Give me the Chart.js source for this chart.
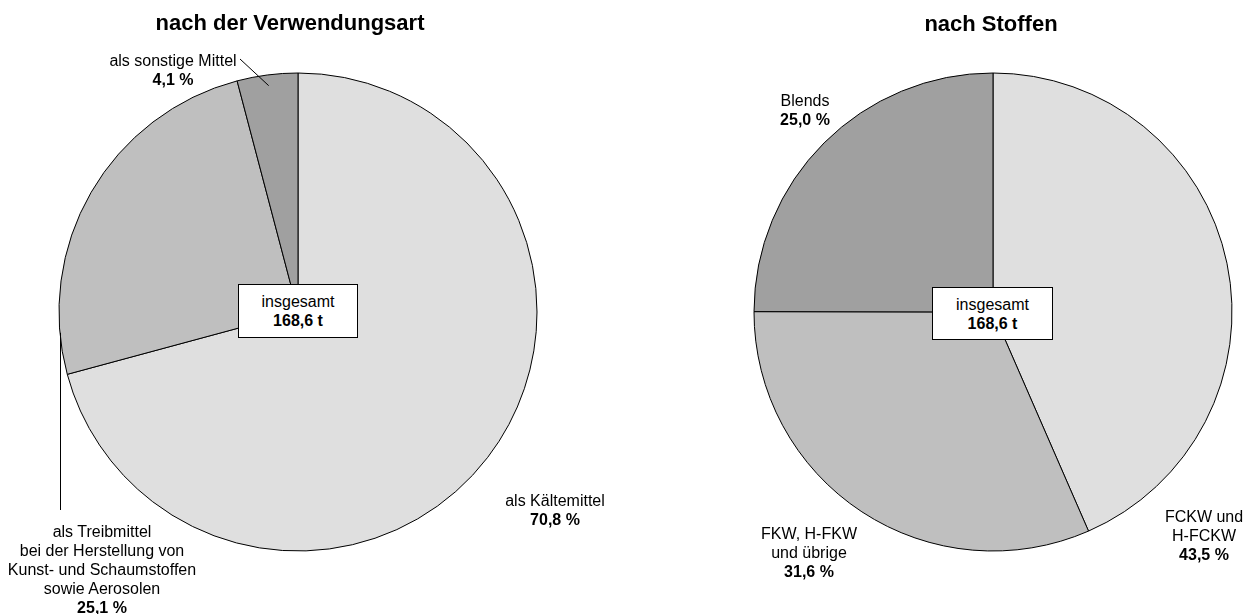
<!DOCTYPE html>
<html lang="de">
<head>
<meta charset="utf-8">
<title>Verwendung nach Art und Stoffen</title>
<script src="https://cdn.jsdelivr.net/npm/chart.js@4.4.1/dist/chart.umd.min.js"></script>
<style>
  html, body { margin: 0; padding: 0; background: #fff; }
  body {
    width: 1252px; height: 614px; position: relative; overflow: hidden;
    font-family: "Liberation Sans", Arial, Helvetica, sans-serif; color: #000;
  }
  canvas { position: absolute; top: 0; }
  .title {
    position: absolute; font-weight: bold; font-size: 22px; line-height: 26px;
    white-space: nowrap; transform: translateX(-50%);
  }
  .label {
    position: absolute; font-size: 16px; line-height: 19px; text-align: center;
    white-space: nowrap; transform: translateX(-50%);
  }
  .total {
    position: absolute; background: #fff; border: 1px solid #000; box-sizing: border-box;
    font-size: 16px; line-height: 19px; text-align: center; padding-top: 7px;
  }
</style>
</head>
<body>
<canvas id="leftPie" width="596" height="614" style="left:0"></canvas>
<canvas id="rightPie" width="518" height="614" style="left:734px"></canvas>

<div class="title" style="left:290px; top:10px">nach der Verwendungsart</div>
<div class="title" style="left:991px; top:11px">nach Stoffen</div>

<div class="total" id="leftTotal" style="left:238px; top:284px; width:120px; height:54px"></div>
<div class="total" id="rightTotal" style="left:932px; top:287px; width:121px; height:53px"></div>

<script>
// Data
const TOTAL_T = 168.6;

// nach der Verwendungsart (clockwise from top)
const useCategories = [
  ["als Kältemittel"],
  ["als Treibmittel", "bei der Herstellung von", "Kunst- und Schaumstoffen", "sowie Aerosolen"],
  ["als sonstige Mittel"],
];
const useValues = [70.8, 25.1, 4.1];

// nach Stoffen (clockwise from top)
const substanceCategories = [
  ["FCKW und", "H-FCKW"],
  ["FKW, H-FKW", "und übrige"],
  ["Blends"],
];
const substanceValues = [43.5, 31.6, 25.0];

const sliceColors = ["#dfdfdf", "#bfbfbf", "#a0a0a0"];

// Label placement: centre x and first line centre y (page pixels)
const useLabelPos = [[555, 500], [102, 531.5], [173, 60]];
const substanceLabelPos = [[1204, 516], [809, 533], [805, 100]];

function fmt(v) {
  return v.toFixed(1).replace(".", ",");
}

function addLabels(categories, values, positions) {
  categories.forEach((lines, i) => {
    const div = document.createElement("div");
    div.className = "label";
    div.innerHTML = lines.join("<br>") + "<br><b>" + fmt(values[i]) + " %</b>";
    div.style.left = positions[i][0] + "px";
    div.style.top = positions[i][1] - 9.5 + "px";
    document.body.appendChild(div);
  });
}

addLabels(useCategories, useValues, useLabelPos);
addLabels(substanceCategories, substanceValues, substanceLabelPos);

document.getElementById("leftTotal").innerHTML = "insgesamt<br><b>" + fmt(TOTAL_T) + " t</b>";
document.getElementById("rightTotal").innerHTML = "insgesamt<br><b>" + fmt(TOTAL_T) + " t</b>";

// Leader lines on the left pie
const leaderPlugin = {
  id: "leaders",
  afterDatasetsDraw(chart) {
    const arcs = chart.getDatasetMeta(0).data;
    const ctx = chart.ctx;
    ctx.save();
    ctx.strokeStyle = "#000";
    ctx.lineWidth = 1;

    // "als sonstige Mittel"
    const small = arcs[2];
    const mid = (small.startAngle + small.endAngle) / 2;
    const r = small.outerRadius * 0.955;
    ctx.beginPath();
    ctx.moveTo(240, 59);
    ctx.lineTo(small.x + Math.cos(mid) * r, small.y + Math.sin(mid) * r);
    ctx.stroke();

    // "als Treibmittel" - vertical line from the left edge
    const prop = arcs[1];
    const a = -Math.PI / 2 + (265 * Math.PI) / 180;
    const sx = Math.round(prop.x + Math.cos(a) * prop.outerRadius) + 0.5;
    const sy = prop.y + Math.sin(a) * prop.outerRadius;
    ctx.beginPath();
    ctx.moveTo(sx, sy);
    ctx.lineTo(sx, 510);
    ctx.stroke();
    ctx.restore();
  },
};

function makePie(id, values, plugins) {
  return new Chart(document.getElementById(id), {
    type: "pie",
    data: {
      labels: values.map((v, i) => i),
      datasets: [
        {
          data: values,
          backgroundColor: sliceColors,
          borderColor: "#000",
          borderWidth: 1,
          radius: 239,
        },
      ],
    },
    options: {
      responsive: false,
      animation: false,
      layout: { padding: { top: 10 } },
      plugins: {
        legend: { display: false },
        tooltip: { enabled: false },
      },
    },
    plugins: plugins,
  });
}

makePie("leftPie", useValues, [leaderPlugin]);
makePie("rightPie", substanceValues, []);
</script>
</body>
</html>
